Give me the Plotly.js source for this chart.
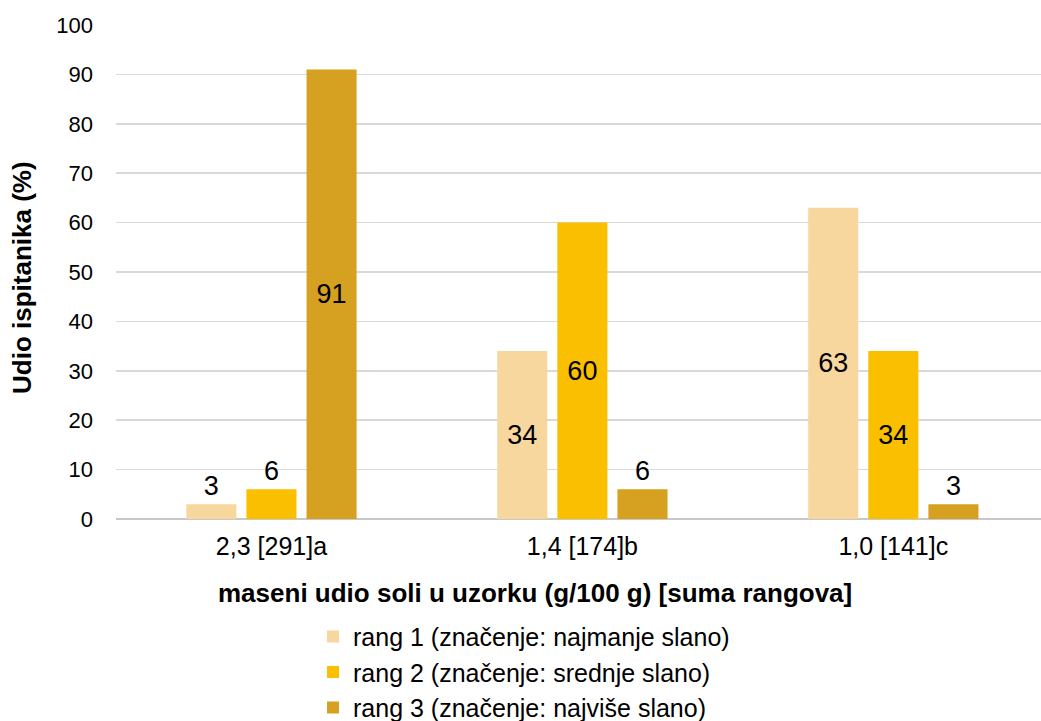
<!DOCTYPE html>
<html>
<head>
<meta charset="utf-8">
<script src="https://cdn.plot.ly/plotly-3.0.1.min.js"></script>
<style>html,body{margin:0;padding:0;background:#fff;}#chart{width:1041px;height:721px;}</style>
</head>
<body>
<div id="chart"></div>
<script>
var categories = ["2,3 [291]a", "1,4 [174]b", "1,0 [141]c"];
var seriesNames = ["rang 1 (značenje: najmanje slano)", "rang 2 (značenje: srednje slano)", "rang 3 (značenje: najviše slano)"];
var rang1 = [3, 34, 63];
var rang2 = [6, 60, 34];
var rang3 = [91, 6, 3];
var yTicks = [0, 10, 20, 30, 40, 50, 60, 70, 80, 90, 100];

var colors = ["#F8D79E", "#FAC000", "#D6A020"];
var seriesValues = [rang1, rang2, rang3];
var FONT = "Liberation Sans, Arial, sans-serif";

function positions(vals) {
  return vals.map(function (v) { return v < 10 ? "outside" : "inside"; });
}

var traces = seriesValues.map(function (vals, i) {
  return {
    type: "bar",
    name: seriesNames[i],
    x: categories,
    y: vals,
    text: vals.map(String),
    textposition: positions(vals),
    insidetextanchor: "middle",
    textangle: 0,
    textfont: {family: FONT, size: 27, color: "#000"},
    insidetextfont: {family: FONT, size: 27, color: "#000"},
    outsidetextfont: {family: FONT, size: 27, color: "#000"},
    cliponaxis: false,
    marker: {color: colors[i], line: {width: 0}},
    hoverinfo: "none"
  };
});

var layout = {
  width: 1041,
  height: 721,
  margin: {l: 116, r: 0, t: 25, b: 202, autoexpand: false},
  paper_bgcolor: "#fff",
  plot_bgcolor: "#fff",
  font: {family: FONT, color: "#000"},
  barmode: "group",
  bargap: 0.42,
  bargroupgap: 0.167,
  showlegend: true,
  legend: {
    orientation: "v",
    x: 0.213, xanchor: "left",
    y: -0.192, yanchor: "top",
    font: {size: 25, color: "#000"},
    traceorder: "normal",
    tracegroupgap: 0,
    itemwidth: 30,
    bgcolor: "rgba(0,0,0,0)"
  },
  xaxis: {
    type: "category",
    range: [-0.5, 2.475],
    showgrid: false,
    showline: false,
    ticks: "",
    tickfont: {size: 25, color: "#000"},
    ticklabelstandoff: 10,
    automargin: false,
    fixedrange: true
  },
  yaxis: {
    range: [0, 100],
    tickvals: yTicks,
    ticktext: yTicks.map(String),
    showgrid: true,
    gridcolor: "#d9d9d9",
    gridwidth: 1.5,
    zeroline: true,
    zerolinecolor: "#c8c8c8",
    zerolinewidth: 2,
    showline: false,
    ticks: "",
    ticklabelstandoff: 22,
    tickfont: {size: 22, color: "#000"},
    automargin: false,
    fixedrange: true
  },
  annotations: [
    {
      text: "<b>maseni udio soli u uzorku (g/100 g) [suma rangova]</b>",
      xref: "paper", yref: "paper",
      x: (535 - 116) / 925, y: (519 - 593) / 494,
      xanchor: "center", yanchor: "middle",
      showarrow: false,
      font: {size: 26, color: "#000"}
    },
    {
      text: "<b>Udio ispitanika (%)</b>",
      xref: "paper", yref: "paper",
      x: (22 - 116) / 925, y: (519 - 278) / 494,
      xanchor: "center", yanchor: "middle",
      textangle: -90,
      showarrow: false,
      font: {size: 26, color: "#000"}
    }
  ]
};

Plotly.newPlot("chart", traces, layout, {displayModeBar: false, staticPlot: true});
</script>
</body>
</html>
